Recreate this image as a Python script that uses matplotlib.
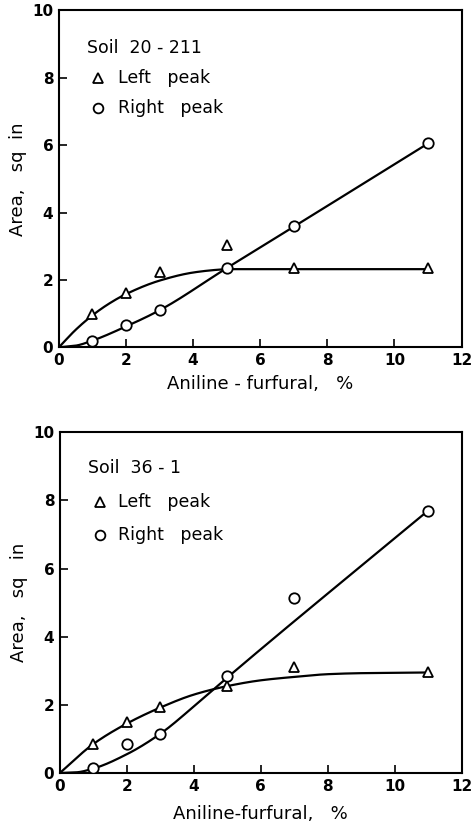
import numpy as np
import matplotlib
matplotlib.use("Agg")
import matplotlib.pyplot as plt

# ---- data ----
conc = [1, 2, 3, 5, 7, 11]

top_title = "Soil  20 - 211"
top_left = [1.0, 1.6, 2.25, 3.05, 2.35, 2.35]
top_right = [0.2, 0.65, 1.1, 2.35, 3.6, 6.05]
top_left_fit_x = [0, 0.5, 1, 1.5, 2, 3, 4, 4.7, 5, 7, 11]
top_left_fit_y = [0, 0.52, 0.95, 1.3, 1.58, 1.98, 2.22, 2.3, 2.32, 2.32, 2.32]
top_right_fit_x = [0, 0.5, 1, 2, 3, 5, 7, 11]
top_right_fit_y = [0, 0.05, 0.2, 0.62, 1.1, 2.35, 3.58, 6.05]

bot_title = "Soil  36 - 1"
bot_left = [0.85, 1.5, 1.95, 2.55, 3.1, 2.95]
bot_right = [0.15, 0.85, 1.15, 2.85, 5.15, 7.7]
bot_left_fit_x = [0, 1, 2, 3, 4, 5, 6, 7, 8, 9, 10, 11]
bot_left_fit_y = [0, 0.85, 1.45, 1.92, 2.3, 2.55, 2.72, 2.82, 2.9, 2.93, 2.94, 2.95]
bot_right_fit_x = [0, 0.5, 1, 2, 3, 4, 5, 11]
bot_right_fit_y = [0, 0.02, 0.13, 0.55, 1.15, 1.95, 2.8, 7.7]

xticks = [0, 2, 4, 6, 8, 10, 12]
yticks = [0, 2, 4, 6, 8, 10]
top_xlabel = "Aniline - furfural,   %"
bot_xlabel = "Aniline-furfural,   %"
top_ylabel = "Area,   sq  in"
bot_ylabel = "Area,   sq   in"
leg_left = "Left   peak"
leg_right = "Right   peak"


def pchip(x, y, xs):
    x = np.asarray(x, float); y = np.asarray(y, float)
    h = np.diff(x); d = np.diff(y) / h
    n = len(x); m = np.zeros(n)
    for k in range(1, n - 1):
        if d[k - 1] * d[k] <= 0:
            m[k] = 0
        else:
            w1 = 2 * h[k] + h[k - 1]; w2 = h[k] + 2 * h[k - 1]
            m[k] = (w1 + w2) / (w1 / d[k - 1] + w2 / d[k])
    m[0] = d[0]; m[-1] = d[-1]
    idx = np.clip(np.searchsorted(x, xs) - 1, 0, n - 2)
    t = (xs - x[idx]) / h[idx]
    h00 = 2 * t**3 - 3 * t**2 + 1; h10 = t**3 - 2 * t**2 + t
    h01 = -2 * t**3 + 3 * t**2; h11 = t**3 - t**2
    return h00 * y[idx] + h10 * h[idx] * m[idx] + h01 * y[idx + 1] + h11 * h[idx] * m[idx + 1]


fig = plt.figure(figsize=(4.71, 8.27), dpi=100)
ax1 = fig.add_axes([0.125, 0.580, 0.855, 0.4075])
ax2 = fig.add_axes([0.127, 0.0653, 0.853, 0.412])

panels = [
    (ax1, top_title, top_left, top_right, top_left_fit_x, top_left_fit_y,
     top_right_fit_x, top_right_fit_y, (8.87, 7.98, 7.09), 1.16,
     top_xlabel, top_ylabel, 5),
    (ax2, bot_title, bot_left, bot_right, bot_left_fit_x, bot_left_fit_y,
     bot_right_fit_x, bot_right_fit_y, (8.94, 7.95, 6.98), 1.19,
     bot_xlabel, bot_ylabel, 8),
]

for (ax, title, lp, rp, lfx, lfy, rfx, rfy, ly, sx,
     xlab, ylab, xpad) in panels:
    xs = np.linspace(0, 11, 400)
    ax.plot(xs, pchip(lfx, lfy, xs), color="black", lw=1.6, zorder=2)
    ax.plot(xs, pchip(rfx, rfy, xs), color="black", lw=1.6, zorder=2)
    ax.plot(conc, lp, linestyle="none", marker="^", ms=7.5, mfc="white",
            mec="black", mew=1.3, zorder=3)
    ax.plot(conc, rp, linestyle="none", marker="o", ms=7.5, mfc="white",
            mec="black", mew=1.3, zorder=3)
    ax.set_xlim(0, 12)
    ax.set_ylim(0, 10)
    ax.set_xticks(xticks)
    ax.set_yticks(yticks)
    ax.tick_params(direction="in", length=6, width=1.2, labelsize=11,
                   top=False, right=False, pad=4)
    for lab in ax.get_xticklabels() + ax.get_yticklabels():
        lab.set_fontweight("bold")
    for s in ax.spines.values():
        s.set_linewidth(1.5)
    ax.set_xlabel(xlab, fontsize=13, labelpad=xpad)
    ax.set_ylabel(ylab, fontsize=13, labelpad=4)
    # in-plot key
    ax.text(0.85, ly[0], title, fontsize=12.5, va="center", ha="left")
    ax.plot([sx], [ly[1]], marker="^", ms=7, mfc="white", mec="black", mew=1.3)
    ax.text(1.75, ly[1], leg_left, fontsize=12.5, va="center", ha="left")
    ax.plot([sx], [ly[2]], marker="o", ms=7, mfc="white", mec="black", mew=1.3)
    ax.text(1.75, ly[2], leg_right, fontsize=12.5, va="center", ha="left")

fig.savefig("out.png", dpi=100)
